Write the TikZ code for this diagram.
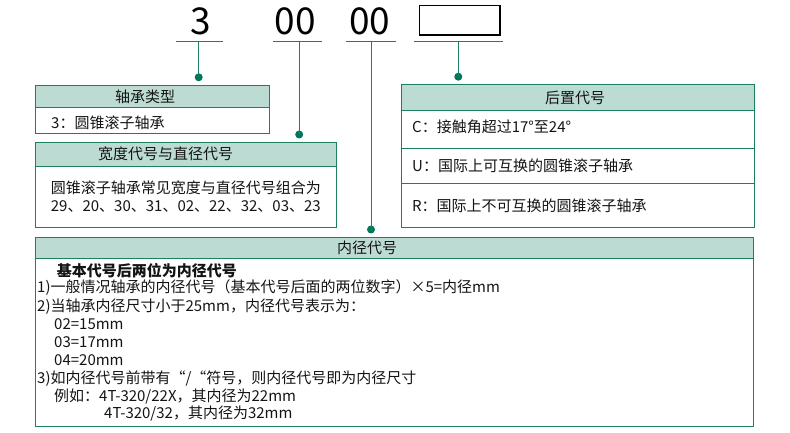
\documentclass[tikz,border=0pt]{standalone}
\usepackage{fontspec}
\newfontfamily\cjk{Noto Sans CJK SC}
\definecolor{bd}{HTML}{1B7F60}
\definecolor{hd}{HTML}{BCDCD3}
\definecolor{dotc}{HTML}{00775A}
\definecolor{tx}{HTML}{141414}
\begin{document}
\begin{tikzpicture}[x=1pt,y=-1pt,
  box/.style={draw=bd, line width=1pt, inner sep=0pt, anchor=north west},
  hdr/.style={box, fill=hd},
  txt/.style={font=\cjk\fontsize{15}{18}\selectfont, text=tx, inner sep=0pt, anchor=base west},
  htxt/.style={txt, anchor=base},
  big/.style={font=\cjk\fontsize{37}{40}\selectfont, text=black, inner sep=0pt, anchor=center},
  conn/.style={draw=bd, line width=1pt},
  jdot/.style={circle, fill=dotc, inner sep=0pt, minimum size=8pt}
]
\useasboundingbox (0,0) rectangle (790,433);

% top code
\node[big] (d1) at (200.5,21) {3};
\node[big] (d2) at (295.5,21) {00};
\node[big] (d3) at (369.7,21) {00};
\node[draw=black, line width=1.4pt, inner sep=0pt, minimum width=80.5pt, minimum height=29.8pt, anchor=north west] (d4) at (418.7,4.7) {};

\coordinate (u1a) at (176,41.3); \coordinate (u1b) at (223,41.3);
\coordinate (u2a) at (273.3,41.3); \coordinate (u2b) at (321.7,41.3);
\coordinate (u3a) at (346,41.3); \coordinate (u3b) at (396,41.3);
\coordinate (u4a) at (414,41.3); \coordinate (u4b) at (503.3,41.3);
\draw[conn] (u1a) -- (u1b);
\draw[conn] (u2a) -- (u2b);
\draw[conn] (u3a) -- (u3b);
\draw[conn] (u4a) -- (u4b);

\coordinate (v1) at (198.7,41.3);
\coordinate (v2) at (299.2,41.3);
\coordinate (v3) at (371,41.3);
\coordinate (v4) at (458.3,41.3);
\node[jdot] (p1) at (198.7,77.3) {};
\node[jdot] (p2) at (299.2,134.5) {};
\node[jdot] (p3) at (371,229.5) {};
\node[jdot] (p4) at (458.3,76.7) {};
\draw[conn] (v1) -- (p1.center);
\draw[conn] (v2) -- (p2.center);
\draw[conn] (v3) -- (p3.center);
\draw[conn] (v4) -- (p4.center);

% box 1
\node[box, minimum width=234pt, minimum height=48pt] (b1) at (34.5,85) {};
\node[hdr, minimum width=234pt, minimum height=22.5pt] (h1) at (34.5,85) {};
\node[htxt] (t1h) at (145,102.2) {轴承类型};
\node[txt] (t1a) at (51,128.5) {3：圆锥滚子轴承};

% box 2
\node[box, minimum width=301pt, minimum height=84.7pt] (b2) at (34.5,142.3) {};
\node[hdr, minimum width=301pt, minimum height=23.4pt] (h2) at (34.5,142.3) {};
\node[htxt] (t2h) at (165.5,159.5) {宽度代号与直径代号};
\node[txt] (t2a) at (50.7,193.5) {圆锥滚子轴承常见宽度与直径代号组合为};
\node[txt] (t2b) at (50.7,211.5) {29、20、30、31、02、22、32、03、23};

% box 4
\node[box, minimum width=353pt, minimum height=142.2pt] (b4) at (400.5,84.5) {};
\node[hdr, minimum width=353pt, minimum height=25.8pt] (h4) at (400.5,84.5) {};
\node[box, minimum width=353pt, minimum height=35.6pt] (r4) at (400.5,147.7) {};
\node[htxt] (t4h) at (575,103.8) {后置代号};
\node[txt] (t4a) at (412,132.2) {C：接触角超过17°至24°};
\node[txt] (t4b) at (412,171.5) {U：国际上可互换的圆锥滚子轴承};
\node[txt] (t4c) at (412,211.2) {R：国际上不可互换的圆锥滚子轴承};

% box 3
\node[box, minimum width=718.2pt, minimum height=189.3pt] (b3) at (34.5,236.7) {};
\node[hdr, minimum width=718.2pt, minimum height=21.6pt] (h3) at (34.5,236.7) {};
\node[htxt] (t3h) at (367,253.8) {内径代号};
\node[txt, font=\cjk\bfseries\fontsize{15}{18}\selectfont] (t3a) at (56.7,276.2) {基本代号后两位为内径代号};
\node[txt] (t3b) at (37,292.2) {1)一般情况轴承的内径代号（基本代号后面的两位数字）×5=内径mm};
\node[txt] (t3c) at (37,311.5) {2)当轴承内径尺寸小于25mm，内径代号表示为：};
\node[txt] (t3d) at (54,329.5) {02=15mm};
\node[txt] (t3e) at (54,347.5) {03=17mm};
\node[txt] (t3f) at (54,365.5) {04=20mm};
\node[txt] (t3g) at (37,383.5) {3)如内径代号前带有“/“符号，则内径代号即为内径尺寸};
\node[txt] (t3h2) at (54,401.2) {例如：4T-320/22X，其内径为22mm};
\node[txt] (t3i) at (104,418.5) {4T-320/32，其内径为32mm};
\end{tikzpicture}
\end{document}
